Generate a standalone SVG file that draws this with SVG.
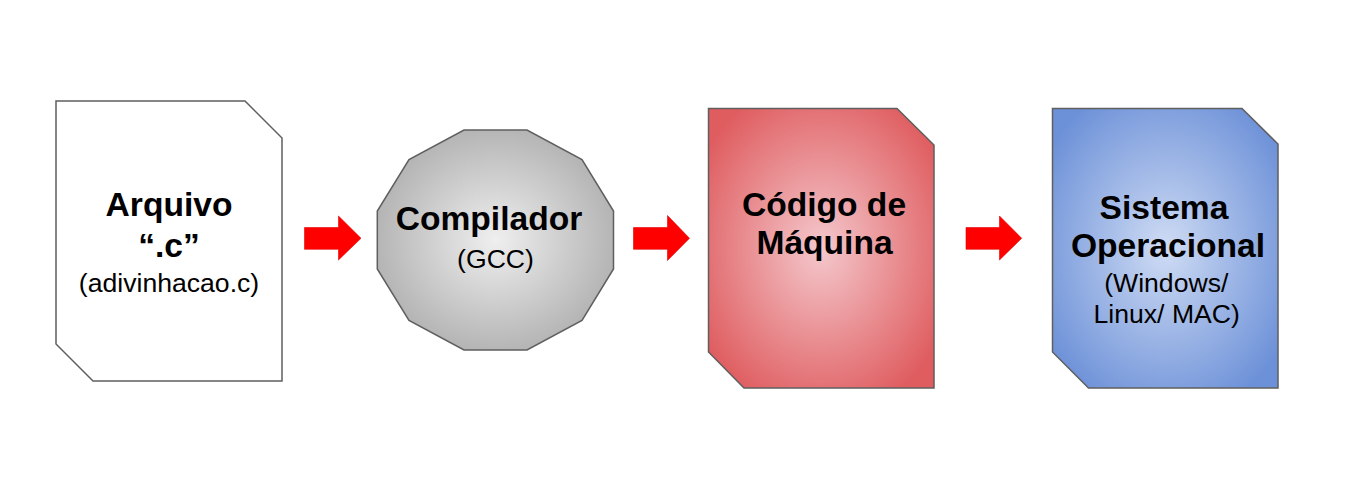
<svg xmlns="http://www.w3.org/2000/svg" width="1359" height="500" viewBox="0 0 1359 500">
<style>
.shape{stroke:#5f5f5f;stroke-width:1.5;stroke-linejoin:miter}
.b{font-family:"Liberation Sans",Arial,sans-serif;font-weight:bold;font-size:33.6px;fill:#000;text-anchor:middle}
.r{font-family:"Liberation Sans",Arial,sans-serif;font-size:26.6px;fill:#000;text-anchor:middle}
.arrow{fill:#ff0000;stroke:#e00000;stroke-width:0.6}
</style>
<defs>
<radialGradient id="gGrey" cx="50%" cy="50%" r="60%">
<stop offset="0" stop-color="#efefef"/>
<stop offset="1" stop-color="#aaaaaa"/>
</radialGradient>
<radialGradient id="gRed" cx="50%" cy="50%" r="62%">
<stop offset="0" stop-color="#f4c8cc"/>
<stop offset="1" stop-color="#df5c5f"/>
</radialGradient>
<radialGradient id="gBlue" cx="50%" cy="50%" r="62%">
<stop offset="0" stop-color="#cfdcf4"/>
<stop offset="1" stop-color="#6d91d8"/>
</radialGradient>
</defs>
<rect width="1359" height="500" fill="#ffffff"/>
<g id="node-arquivo">
<polygon class="shape" fill="#ffffff" points="56,101 245,101 282,138 282,381 93,381 56,344"/>
<text class="b" x="169" y="216">Arquivo</text>
<text class="b" x="169" y="257">“.c”</text>
<text class="r" x="169" y="291.5">(adivinhacao.c)</text>
</g>
<g id="node-compilador">
<polygon class="shape" fill="url(#gGrey)" points="464,130 527,130 582,159.5 613.5,211 613.5,269 582,320.5 527,350 464,350 409,320.5 377.3,269 377.3,211 409,159.5"/>
<text class="b" x="489" y="230">Compilador</text>
<text class="r" x="495.5" y="268">(GCC)</text>
</g>
<g id="node-codigo">
<polygon class="shape" fill="url(#gRed)" points="708.5,108.5 897,108.5 934,145 934,388 744,388 708.5,352"/>
<text class="b" x="824" y="216">Código de</text>
<text class="b" x="824.5" y="254">Máquina</text>
</g>
<g id="node-so">
<polygon class="shape" fill="url(#gBlue)" points="1052.5,108.5 1242,108.5 1278,144 1278,388 1088.5,388 1052.5,352"/>
<text class="b" x="1164" y="218.5">Sistema</text>
<text class="b" x="1168" y="256.5">Operacional</text>
<text class="r" x="1166.3" y="291.5">(Windows/</text>
<text class="r" x="1166.7" y="322.5">Linux/ MAC)</text>
</g>
<g id="connectors">
<polygon class="arrow" points="304.5,227.5 338.5,227.5 338.5,216 361,238.3 338.5,260 338.5,249.3 304.5,249.3"/>
<polygon class="arrow" points="633.5,227.5 667.5,227.5 667.5,215.5 689.5,238.3 667.5,260.5 667.5,249.3 633.5,249.3"/>
<polygon class="arrow" points="966,227.5 999.5,227.5 999.5,216 1021.7,238.3 999.5,260 999.5,249.3 966,249.3"/>
</g>
</svg>
